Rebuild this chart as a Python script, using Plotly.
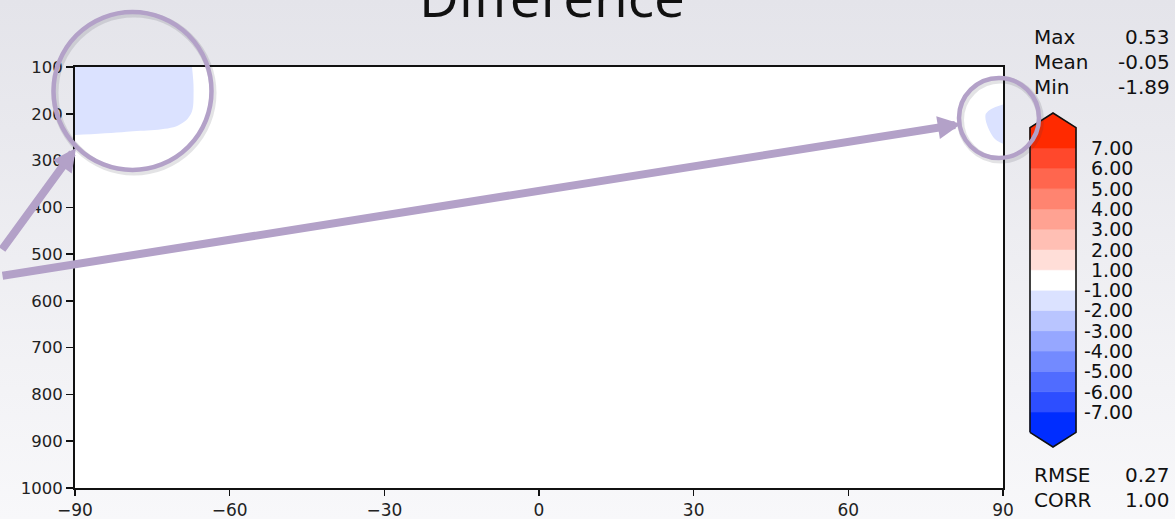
import base64
from bisect import bisect_right
import plotly.graph_objects as go

# ---------------- data ----------------
lat = [-90, -80, -70, -65, -60, -45, -30, -15, 0, 15, 30, 45, 60, 75, 85, 90]
lev = [100, 150, 200, 250, 300, 400, 500, 600, 700, 800, 900, 1000]
diff = [
    [-1.89, -1.60, -1.35, -0.70, -0.30, 0.10, 0.25, 0.35, 0.40, 0.45, 0.53, 0.30, 0.05, -0.30, -0.45, -0.50],
    [-1.75, -1.55, -1.45, -0.70, -0.30, 0.00, 0.20, 0.30, 0.35, 0.40, 0.45, 0.20, -0.10, -0.35, -0.50, -0.55],
    [-1.50, -1.40, -1.30, -0.70, -0.35, -0.10, 0.10, 0.20, 0.25, 0.25, 0.20, 0.05, -0.20, -0.45, -0.85, -1.30],
    [-0.95, -0.88, -0.70, -0.50, -0.30, -0.10, 0.05, 0.10, 0.15, 0.15, 0.10, 0.00, -0.20, -0.40, -0.80, -1.12],
    [-0.60, -0.55, -0.45, -0.35, -0.20, -0.05, 0.05, 0.05, 0.10, 0.10, 0.05, 0.00, -0.15, -0.30, -0.55, -0.70],
    [-0.40, -0.35, -0.25, -0.20, -0.10, 0.00, 0.05, 0.05, 0.05, 0.05, 0.00, -0.05, -0.10, -0.20, -0.30, -0.40],
    [-0.45, -0.30, -0.20, -0.15, -0.05, 0.00, 0.00, 0.05, 0.05, 0.00, 0.00, -0.05, -0.05, -0.15, -0.25, -0.30],
    [-0.70, -0.35, -0.20, -0.10, -0.05, 0.00, 0.00, 0.00, 0.05, 0.00, -0.05, -0.05, -0.05, -0.10, -0.20, -0.25],
    [-0.55, -0.30, -0.15, -0.10, -0.05, 0.00, 0.00, 0.00, 0.00, 0.00, 0.00, -0.05, -0.05, -0.10, -0.15, -0.20],
    [-0.40, -0.25, -0.10, -0.05, 0.00, 0.05, 0.00, 0.00, 0.00, 0.00, 0.00, 0.00, -0.05, -0.05, -0.10, -0.15],
    [-0.30, -0.20, -0.10, -0.05, 0.00, 0.05, 0.05, 0.00, 0.00, 0.00, 0.05, 0.05, 0.00, -0.05, -0.10, -0.10],
    [-0.25, -0.15, -0.05, 0.00, 0.05, 0.05, 0.05, 0.00, 0.00, 0.05, 0.05, 0.05, 0.00, 0.00, -0.05, -0.10],
]

levels = [-7, -6, -5, -4, -3, -2, -1, 1, 2, 3, 4, 5, 6, 7]
band_colors = [
    "rgb(0,45,255)", "rgb(45,78,255)", "rgb(80,108,255)", "rgb(115,138,255)",
    "rgb(150,167,255)", "rgb(185,197,255)", "rgb(219,226,255)", "rgb(255,255,255)",
    "rgb(255,222,216)", "rgb(255,191,180)", "rgb(255,162,146)", "rgb(255,132,112)",
    "rgb(255,102,78)", "rgb(255,72,44)", "rgb(255,42,0)",
]
x_ticks = [-90, -60, -30, 0, 30, 60, 90]
y_ticks = [100, 200, 300, 400, 500, 600, 700, 800, 900, 1000]
stats_top = [("Max", "0.53"), ("Mean", "-0.05"), ("Min", "-1.89")]
stats_bottom = [("RMSE", "0.27"), ("CORR", "1.00")]
title = "Difference"

# ---------------- geometry helpers ----------------
W, H = 1175, 519
ML, MR, MT, MB = 75, 0, 67, 31
PW, PH = W - ML - MR, H - MT - MB


def px(xp):
    return (xp - ML) / PW


def py(yp):
    return (H - MB - yp) / PH


FONT = "DejaVu Sans"
PURPLE = "#b3a1c8"

# contour colorscale: band midpoints sampled by plotly at k/(nc+1)
step = 1
c_start, c_end = levels[0], levels[-1]
nc = int((c_end - c_start) / step)
colorscale = []
for k in range(nc + 2):
    mid = c_start - step / 2 + k * step
    col = band_colors[bisect_right(levels, mid)]
    lo = max(0.0, (k - 0.5) / (nc + 1))
    hi = min(1.0, (k + 0.5) / (nc + 1))
    colorscale.append([lo, col])
    colorscale.append([hi, col])

fig = go.Figure()
fig.add_trace(go.Contour(
    x=lat, y=lev, z=diff,
    autocontour=False,
    contours=dict(start=c_start, end=c_end, size=step, coloring="fill", showlines=False),
    colorscale=colorscale, showscale=False,
    line=dict(width=0, smoothing=1.0),
    hoverinfo="skip",
))

# ---------------- custom colorbar (x2/y2) ----------------
tip = 0.72
nb = len(band_colors)
for j, col in enumerate(band_colors):
    y0, y1 = j - 1, j
    if j == 0:
        xs = [0, 0, 0.5, 1, 1, 0]
        ys = [y1, y0, y0 - tip, y0, y1, y1]
    elif j == nb - 1:
        xs = [0, 0, 0.5, 1, 1, 0]
        ys = [y0, y1, y1 + tip, y1, y0, y0]
    else:
        xs = [0, 1, 1, 0, 0]
        ys = [y0, y0, y1, y1, y0]
    fig.add_trace(go.Scatter(x=xs, y=ys, mode="lines", fill="toself", fillcolor=col,
                             line=dict(color=col, width=0.6), xaxis="x2", yaxis="y2",
                             hoverinfo="skip", showlegend=False))
top = nb - 1
fig.add_trace(go.Scatter(
    x=[0, 0, 0.5, 1, 1, 0.5, 0], y=[-1, top, top + tip, top, -1, -1 - tip, -1],
    mode="lines", line=dict(color="#111", width=1.6), xaxis="x2", yaxis="y2",
    hoverinfo="skip", showlegend=False))

annotations = []
for i, v in enumerate(levels):
    annotations.append(dict(x=px(1135), xref="paper", xanchor="right", y=i, yref="y2",
                            yanchor="middle", text=f"{v:.2f}", showarrow=False,
                            font=dict(family=FONT, size=19, color="#111")))

for k, (lab, val) in enumerate(stats_top):
    yy = py(37 + 25 * k)
    annotations.append(dict(x=px(1032), xref="paper", xanchor="left", y=yy, yref="paper",
                            yanchor="middle", text=lab, showarrow=False,
                            font=dict(family=FONT, size=20, color="#111")))
    annotations.append(dict(x=px(1172), xref="paper", xanchor="right", y=yy, yref="paper",
                            yanchor="middle", text=val, showarrow=False,
                            font=dict(family=FONT, size=20, color="#111")))
for k, (lab, val) in enumerate(stats_bottom):
    yy = py(475 + 25 * k)
    annotations.append(dict(x=px(1032), xref="paper", xanchor="left", y=yy, yref="paper",
                            yanchor="middle", text=lab, showarrow=False,
                            font=dict(family=FONT, size=20, color="#111")))
    annotations.append(dict(x=px(1172), xref="paper", xanchor="right", y=yy, yref="paper",
                            yanchor="middle", text=val, showarrow=False,
                            font=dict(family=FONT, size=20, color="#111")))

annotations.append(dict(x=px(552), xref="paper", xanchor="center", y=py(-4.5), yref="paper",
                        yanchor="middle", text=title, showarrow=False,
                        font=dict(family="Open Sans", size=55, color="#111")))

# arrows (tails start at the left edge of the figure)
annotations.append(dict(x=px(76), y=py(148), xref="paper", yref="paper", text="",
                        showarrow=True, arrowhead=2, arrowsize=0.58, arrowwidth=8,
                        arrowcolor=PURPLE, ax=-75, ay=103))
annotations.append(dict(x=px(961), y=py(124), xref="paper", yref="paper", text="",
                        showarrow=True, arrowhead=2, arrowsize=0.58, arrowwidth=8,
                        arrowcolor=PURPLE, ax=-960, ay=152))

# circles (highlight rings)
shapes = [dict(type="rect", xref="paper", yref="paper", x0=0, x1=px(1003), y0=0, y1=1,
               fillcolor="white", line=dict(width=0), layer="below")]
for cx, cy, r in [(132.5, 91, 79), (999, 118, 40)]:
    shapes.append(dict(type="circle", xref="paper", yref="paper",
                       xsizemode="pixel", ysizemode="pixel",
                       xanchor=px(cx + 1.5), yanchor=py(cy + 2),
                       x0=-r, x1=r, y0=-r, y1=r,
                       line=dict(color="rgba(60,60,70,0.14)", width=7)))
    shapes.append(dict(type="circle", xref="paper", yref="paper",
                       xsizemode="pixel", ysizemode="pixel",
                       xanchor=px(cx), yanchor=py(cy),
                       x0=-r, x1=r, y0=-r, y1=r,
                       line=dict(color=PURPLE, width=4.5)))

# background gradient
svg = ('<svg xmlns="http://www.w3.org/2000/svg" width="100" height="100" viewBox="0 0 100 100" '
       'preserveAspectRatio="none"><defs><linearGradient id="g" x1="0" y1="0" x2="0" y2="1">'
       '<stop offset="0" stop-color="#e4e4ea"/><stop offset="1" stop-color="#f8f8fa"/>'
       '</linearGradient></defs><rect width="100" height="100" fill="url(#g)"/></svg>')
src = "data:image/svg+xml;base64," + base64.b64encode(svg.encode()).decode()

cb_pad_x = 0.03
cb_x0, cb_x1 = 1030, 1076
cb_px_per = (cb_x1 - cb_x0)
cb_tip_top, cb_tip_bot = 113, 447
y2_lo, y2_hi = -1 - tip - 0.1, top + tip + 0.1
ppu = (cb_tip_bot - cb_tip_top) / (2 * tip + top + 1)

fig.update_layout(
    width=W, height=H, autosize=False,
    margin=dict(l=ML, r=MR, t=MT, b=MB, autoexpand=False),
    paper_bgcolor="#eeeef2", plot_bgcolor="rgba(0,0,0,0)",
    showlegend=False,
    images=[dict(source=src, xref="paper", yref="paper", x=px(0), y=py(0),
                 sizex=W / PW, sizey=H / PH, xanchor="left", yanchor="top",
                 sizing="stretch", layer="below")],
    xaxis=dict(domain=[0, px(1003)], range=[-90, 90], tickvals=x_ticks,
               ticktext=[str(v).replace("-", "\u2212") for v in x_ticks],
               ticks="outside", ticklen=6, tickwidth=1.5, tickcolor="#111",
               showline=True, linecolor="#111", linewidth=2, mirror=True,
               showgrid=False, zeroline=False, automargin=False,
               tickfont=dict(family=FONT, size=17, color="#222")),
    yaxis=dict(domain=[0, 1], range=[1000, 100], tickvals=y_ticks,
               ticks="outside", ticklen=7, tickwidth=1.5, tickcolor="#111",
               showline=True, linecolor="#111", linewidth=2, mirror=True,
               showgrid=False, zeroline=False, automargin=False,
               tickfont=dict(family=FONT, size=16.5, color="#222")),
    xaxis2=dict(domain=[px(cb_x0 - cb_pad_x * cb_px_per), px(cb_x1 + cb_pad_x * cb_px_per)],
                range=[-cb_pad_x, 1 + cb_pad_x], visible=False, anchor="y2", fixedrange=True),
    yaxis2=dict(domain=[py(cb_tip_bot + 0.1 * ppu), py(cb_tip_top - 0.1 * ppu)],
                range=[y2_lo, y2_hi], visible=False, anchor="x2", fixedrange=True),
    annotations=annotations,
    shapes=shapes,
)

fig.write_html(
    "out.html",
    config={"responsive": False, "displayModeBar": False, "staticPlot": True},
    default_width=f"{W}px", default_height=f"{H}px",
    post_script="document.body.style.margin='0';document.body.style.overflow='hidden';",
)
